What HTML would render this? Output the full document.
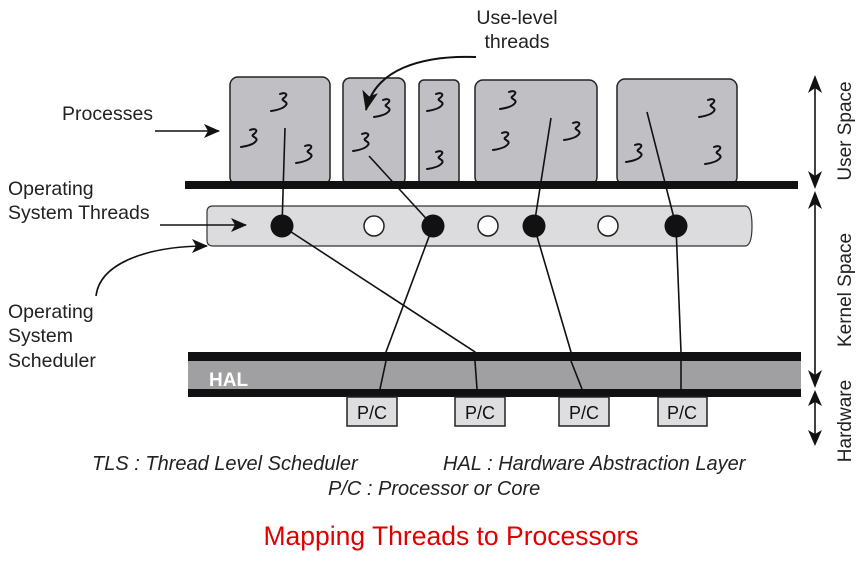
<!DOCTYPE html>
<html><head><meta charset="utf-8"><style>
html,body{margin:0;padding:0;background:#fff;}
svg{display:block}
text{font-family:"Liberation Sans",Arial,sans-serif;}
</style></head><body>
<svg width="856" height="568" viewBox="0 0 856 568" xmlns="http://www.w3.org/2000/svg">
<defs>
<marker id="ah" markerWidth="16" markerHeight="14" refX="15" refY="7" orient="auto" markerUnits="userSpaceOnUse"><path d="M0,0 L16,7 L0,14 L4,7 Z" fill="#111"/></marker>
<marker id="ahL" markerWidth="20" markerHeight="20" refX="19" refY="10" orient="auto" markerUnits="userSpaceOnUse"><path d="M0,2 L20,10 L0,18 L5,10 Z" fill="#111"/></marker>
<g id="sq"><path d="M-2,-10 C3,-12 7,-10 2,-6 C-3,-3 7,-3 4,1 C2,4 -4,6 -11,7" fill="none" stroke="#111" stroke-width="2" stroke-linecap="round"/></g>
</defs>
<g fill="#c0c0c4" stroke="#222" stroke-width="1.5">
<rect x="230" y="77" width="100" height="108" rx="8"/>
<rect x="343" y="78" width="62" height="107" rx="7"/>
<rect x="419" y="80" width="40" height="105" rx="5"/>
<rect x="475" y="80" width="122" height="105" rx="8"/>
<rect x="617" y="79" width="120" height="106" rx="8"/>
</g>
<g>
<use href="#sq" x="282" y="104"/><use href="#sq" x="252" y="140"/><use href="#sq" x="307" y="156"/>
<use href="#sq" x="385" y="110"/><use href="#sq" x="364" y="144"/>
<use href="#sq" x="438" y="104"/><use href="#sq" x="438" y="162"/>
<use href="#sq" x="511" y="102"/><use href="#sq" x="504" y="143"/><use href="#sq" x="575" y="133"/>
<use href="#sq" x="637" y="155"/><use href="#sq" x="710" y="110"/><use href="#sq" x="716" y="157"/>
</g>
<rect x="185" y="181" width="613" height="8" fill="#111"/>
<path d="M213,206 L745,206 Q752,206 752,226 Q752,246 745,246 L213,246 Q207,246 207,240 L207,212 Q207,206 213,206 Z" fill="#dcdcdf" stroke="#333" stroke-width="1.2"/>
<g stroke="#111" stroke-width="1.6" fill="none">
<line x1="285" y1="128" x2="282" y2="226"/>
<line x1="369" y1="156" x2="433" y2="226"/>
<line x1="551" y1="118" x2="534" y2="226"/>
<line x1="647" y1="112" x2="676" y2="226"/>
<polyline points="282,226 475,352 477,398"/>
<polyline points="433,226 386,352 380,398"/>
<polyline points="534,226 571,352 582,398"/>
<polyline points="676,226 681,352 681,398"/>
</g>
<g fill="#111"><circle cx="282" cy="226" r="11.5"/><circle cx="433" cy="226" r="11.5"/><circle cx="534" cy="226" r="11.5"/><circle cx="676" cy="226" r="11.5"/></g>
<g fill="#fff" stroke="#222" stroke-width="1.5"><circle cx="374" cy="226" r="10"/><circle cx="488" cy="226" r="10"/><circle cx="608" cy="226" r="10"/></g>
<rect x="188" y="352" width="613" height="45" fill="#111"/>
<rect x="188" y="361" width="613" height="28" fill="#a0a0a3"/>
<g stroke="#111" stroke-width="1.6"><line x1="386" y1="361" x2="380" y2="389"/><line x1="475" y1="361" x2="477" y2="389"/><line x1="571" y1="361" x2="582" y2="389"/><line x1="681" y1="361" x2="681" y2="389"/></g>
<text x="209" y="386" font-size="19" font-weight="bold" fill="#fff">HAL</text>
<g fill="#dedee0" stroke="#222" stroke-width="1.5">
<rect x="347" y="397" width="50" height="29"/><rect x="455" y="397" width="50" height="29"/><rect x="559" y="397" width="50" height="29"/><rect x="658" y="397" width="49" height="29"/>
</g>
<g font-size="18" fill="#111" text-anchor="middle"><text x="372" y="419">P/C</text><text x="480" y="419">P/C</text><text x="584" y="419">P/C</text><text x="682" y="419">P/C</text></g>
<g font-size="19.5" fill="#222">
<text x="62" y="120">Processes</text>
<text x="8" y="195">Operating</text><text x="8" y="219">System Threads</text>
<text x="8" y="318">Operating</text><text x="8" y="342">System</text><text x="8" y="367">Scheduler</text>
<text x="517" y="24" text-anchor="middle">Use-level</text><text x="517" y="48" text-anchor="middle">threads</text>
</g>
<g stroke="#111" stroke-width="1.6" fill="none">
<line x1="155" y1="131" x2="219" y2="131" marker-end="url(#ah)"/>
<line x1="160" y1="225" x2="246" y2="225" marker-end="url(#ah)"/>
<path d="M96,296 C100,262 150,246 207,246" marker-end="url(#ah)"/>
<path d="M476,57 C420,55 375,70 366,110" stroke-width="2" marker-end="url(#ahL)"/>
</g>
<g stroke="#111" stroke-width="1.6">
<line x1="815" y1="80" x2="815" y2="184"/><line x1="815" y1="196" x2="815" y2="383"/><line x1="815" y1="395" x2="815" y2="442"/>
</g>
<g fill="#111">
<path d="M815,75 L808,93 L815,88 L822,93 Z"/><path d="M815,189 L808,171 L815,176 L822,171 Z"/>
<path d="M815,191 L808,209 L815,204 L822,209 Z"/><path d="M815,388 L808,370 L815,375 L822,370 Z"/>
<path d="M815,390 L808,406 L815,402 L822,406 Z"/><path d="M815,446 L808,430 L815,434 L822,430 Z"/>
</g>
<g font-size="19" fill="#222">
<text transform="translate(851,131) rotate(-90)" text-anchor="middle">User Space</text>
<text transform="translate(851,290) rotate(-90)" text-anchor="middle">Kernel Space</text>
<text transform="translate(851,421) rotate(-90)" text-anchor="middle">Hardware</text>
</g>
<g font-size="20" font-style="italic" fill="#222">
<text x="92" y="470">TLS : Thread Level Scheduler</text>
<text x="443" y="470">HAL : Hardware Abstraction Layer</text>
<text x="328" y="495">P/C : Processor or Core</text>
</g>
<text x="451" y="545" font-size="26.5" fill="#e00000" text-anchor="middle">Mapping Threads to Processors</text>
</svg>
</body></html>
